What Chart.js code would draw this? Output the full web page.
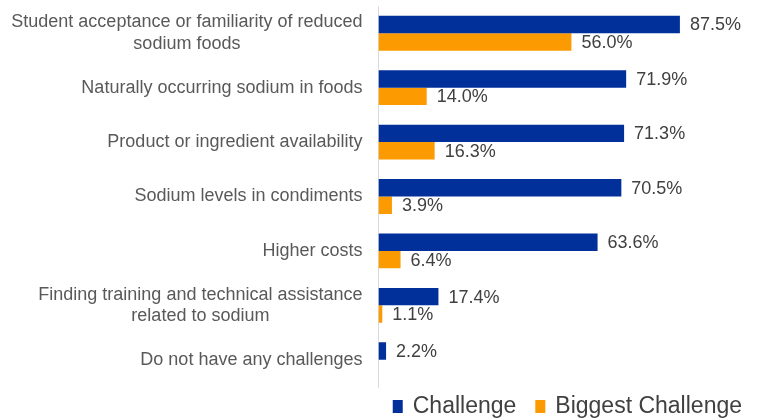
<!DOCTYPE html>
<html lang="en">
<head>
<meta charset="UTF-8" />
<title>Sodium challenges</title>
<style>
  html, body { margin: 0; padding: 0; background: #fff; }
  .wrap { position: relative; width: 757px; height: 419px; }
</style>
</head>
<body>
<div class="wrap"><canvas id="chart"></canvas></div>
<script src="https://cdn.jsdelivr.net/npm/chart.js"></script>
<script>
const categories = [
  ["Student acceptance or familiarity of reduced", "sodium foods"],
  "Naturally occurring sodium in foods",
  "Product or ingredient availability",
  "Sodium levels in condiments",
  "Higher costs",
  ["Finding training and technical assistance", "related to sodium"],
  "Do not have any challenges"
]
const challenge = [87.5, 71.9, 71.3, 70.5, 63.6, 17.4, 2.2]
const biggestChallenge = [56.0, 14.0, 16.3, 3.9, 6.4, 1.1, null]

const FONT = "'Liberation Sans', Arial, sans-serif"
const TICK_PAD = 16

// % value just past the end of each bar
const valueLabels = {
  id: "valueLabels",
  afterDatasetsDraw(chart) {
    const ctx = chart.ctx
    ctx.save()
    ctx.font = "18px " + FONT
    ctx.fillStyle = "#404040"
    ctx.textBaseline = "middle"
    ctx.textAlign = "left"
    chart.data.datasets.forEach((ds, i) => {
      chart.getDatasetMeta(i).data.forEach((bar, j) => {
        const v = ds.data[j]
        if (v == null) return
        ctx.fillText(v.toFixed(1) + "%", bar.x + 10, bar.y + 1)
      })
    })
    ctx.restore()
  }
}

// category labels: right aligned, but multi-line ones centred line by line
const categoryLabels = {
  id: "categoryLabels",
  afterDraw(chart) {
    const ctx = chart.ctx
    const y = chart.scales.y
    const lh = 18 * 1.2
    ctx.save()
    ctx.font = "18px " + FONT
    ctx.fillStyle = "#595959"
    ctx.textBaseline = "middle"
    const xr = y.right - TICK_PAD
    y.ticks.forEach((t, i) => {
      const py = y.getPixelForTick(i)
      const lines = Array.isArray(t.label) ? t.label : [t.label]
      if (lines.length === 1) {
        ctx.textAlign = "right"
        ctx.fillText(lines[0], xr, py)
        return
      }
      const w = Math.max(...lines.map((l) => ctx.measureText(l).width))
      ctx.textAlign = "center"
      lines.forEach((l, k) => {
        ctx.fillText(l, xr - w / 2, py + (k - (lines.length - 1) / 2) * lh)
      })
    })
    ctx.restore()
  }
}

// legend at the bottom right
const bottomLegend = {
  id: "bottomLegend",
  afterDraw(chart) {
    const ctx = chart.ctx
    ctx.save()
    ctx.font = "23px " + FONT
    ctx.textBaseline = "middle"
    ctx.textAlign = "left"
    const items = chart.data.datasets.map((ds) => ({
      text: ds.label,
      color: ds.backgroundColor,
      w: 10 + 10 + ctx.measureText(ds.label).width
    }))
    const gap = 19
    const total = items.reduce((s, it) => s + it.w, 0) + gap * (items.length - 1)
    let x = chart.width - 15 - total
    const cy = chart.height - 13
    items.forEach((it) => {
      ctx.fillStyle = it.color
      ctx.fillRect(x, cy - 6, 10, 13)
      ctx.fillStyle = "#404040"
      ctx.fillText(it.text, x + 20, cy + 1)
      x += it.w + gap
    })
    ctx.restore()
  }
}

new Chart(document.getElementById("chart"), {
  type: "bar",
  data: {
    labels: categories,
    datasets: [
      {
        label: "Challenge",
        data: challenge,
        backgroundColor: "#02309a",
        categoryPercentage: 0.64,
        barPercentage: 1.0
      },
      {
        label: "Biggest Challenge",
        data: biggestChallenge,
        backgroundColor: "#fc9a02",
        categoryPercentage: 0.64,
        barPercentage: 1.0
      }
    ]
  },
  options: {
    indexAxis: "y",
    responsive: true,
    maintainAspectRatio: false,
    animation: false,
    layout: { padding: { top: 6, right: 12, left: 12, bottom: 32 } },
    scales: {
      x: {
        min: 0,
        max: 106.4,
        display: false,
        grid: { display: false }
      },
      y: {
        grid: { display: false, drawTicks: false },
        border: { display: true, color: "#d9d9d9", width: 1 },
        ticks: {
          color: "rgba(0,0,0,0)",
          padding: TICK_PAD,
          font: { family: FONT, size: 18 }
        },
        afterFit(scale) {
          scale.paddingTop = 0
          scale.paddingBottom = 0
        }
      }
    },
    plugins: {
      legend: { display: false },
      tooltip: { enabled: false }
    }
  },
  plugins: [valueLabels, categoryLabels, bottomLegend]
})
</script>
</body>
</html>
